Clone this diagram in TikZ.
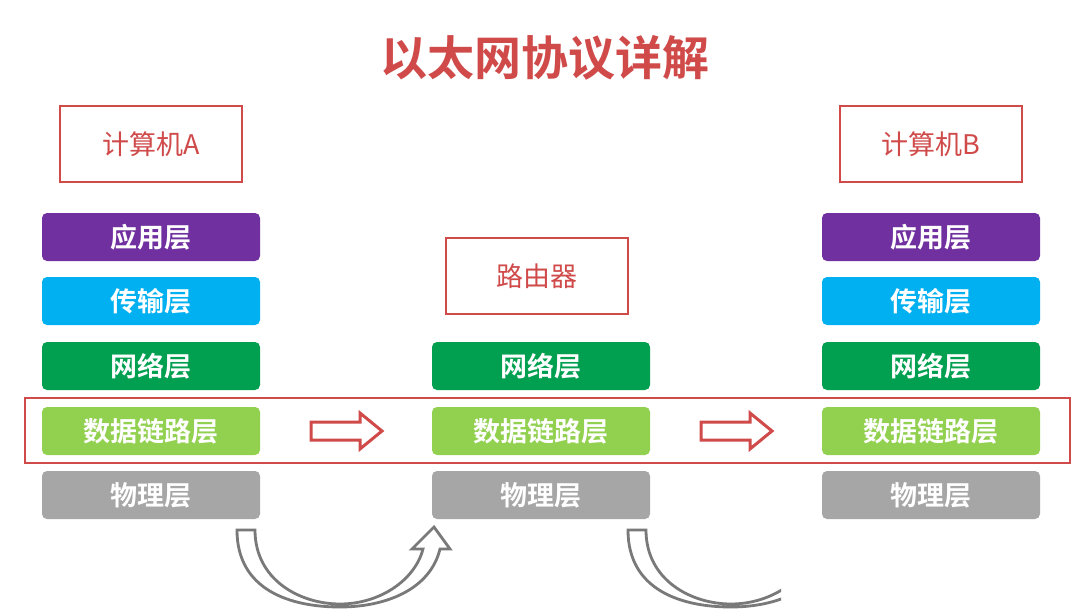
\documentclass[tikz,border=0pt]{standalone}
\usepackage{fontspec}
\newfontfamily\cjk{Noto Sans CJK SC}
\newfontfamily\cjkb{Noto Sans CJK SC Bold}
\begin{document}
\begin{tikzpicture}[x=1pt,y=-1pt,
  layer/.style={rounded corners=5pt,minimum width=218pt,minimum height=48pt,inner sep=0pt,text=white,font=\cjkb\fontsize{27}{27}\selectfont},
  comp/.style={draw=myred,line width=2.2pt,minimum width=182pt,minimum height=76pt,inner sep=0pt,text=myred,font=\cjk\fontsize{27}{27}\selectfont},
  barrow/.style={draw=myred,line width=3pt,fill=white},
  carrow/.style={draw=gray!95!black,line width=2.8pt,fill=white}]
\definecolor{myred}{HTML}{D04A4A}
\definecolor{lp}{HTML}{7030A0}
\definecolor{lb}{HTML}{00B0F0}
\definecolor{lg}{HTML}{00A050}
\definecolor{ll}{HTML}{92D050}
\definecolor{lgr}{HTML}{A6A6A6}
\useasboundingbox (0,0) rectangle (1080,610);
\fill[white] (0,0) rectangle (1080,610);
\node[text=myred,font=\cjkb\fontsize{47}{47}\selectfont] (title) at (545,58) {以太网协议详解};
\node[comp] (ca) at (151,144) {计算机A};
\node[comp] (cb) at (931,144) {计算机B};
\node[comp] (r) at (537,276) {路由器};
\foreach \x/\n in {151/a,931/b}{
 \node[layer,fill=lp] (app\n) at (\x,237) {应用层};
 \node[layer,fill=lb] (tr\n) at (\x,301) {传输层};
}
\foreach \x/\n in {151/a,541/r,931/b}{
 \node[layer,fill=lg] (net\n) at (\x,366) {网络层};
 \node[layer,fill=ll] (dl\n) at (\x,431) {数据链路层};
 \node[layer,fill=lgr] (ph\n) at (\x,495) {物理层};
}
\node[draw=myred,line width=2.2pt,minimum width=1045pt,minimum height=65pt,inner sep=0pt] (band) at (547.5,430.5) {};
\foreach \dx in {0,390}{
 \draw[barrow] (311+\dx,422)--(360+\dx,422)--(360+\dx,413)--(382+\dx,431)--(360+\dx,449)--(360+\dx,440)--(311+\dx,440)--cycle;
}
\draw[carrow] (237,530)--(255,530) .. controls (255,580) and (300,604) .. (340,604) .. controls (380,604) and (415,580) .. (423,549) -- (412,549) -- (434,527) -- (450,549) -- (440,549) .. controls (430,590) and (385,607) .. (340,607) .. controls (290,607) and (237,590) .. (237,530) -- cycle;
\begin{scope}
\clip (600,520) rectangle (781,610);
\draw[carrow,xshift=391pt] (237,530)--(255,530) .. controls (255,580) and (300,604) .. (340,604) .. controls (380,604) and (415,580) .. (423,549) -- (412,549) -- (434,527) -- (450,549) -- (440,549) .. controls (430,590) and (385,607) .. (340,607) .. controls (290,607) and (237,590) .. (237,530) -- cycle;
\end{scope}
\end{tikzpicture}
\end{document}
